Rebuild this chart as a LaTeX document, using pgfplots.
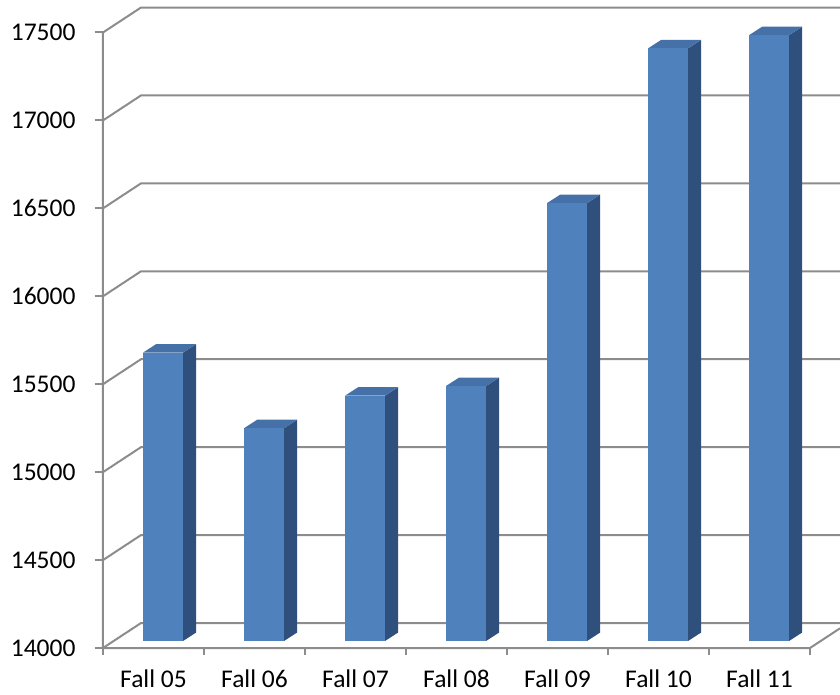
\documentclass[border=0pt]{standalone}
\usepackage{pgfplots}
\pgfplotsset{compat=1.18}
\usepackage{fontspec}
\setmainfont{Carlito}
\definecolor{gridgray}{RGB}{140,140,140}
\definecolor{barfront}{RGB}{79,129,189}
\definecolor{barside}{RGB}{47,80,125}
\definecolor{bartop}{RGB}{70,113,168}
% 3D bar: #1 = category position, #2 = value
\newcommand\tdbar[2]{%
 \edef\tmp{%
  \noexpand\addplot[fill=barside,draw=none] coordinates {(\fpeval{#1+0.293},14040) (\fpeval{#1+0.422},14088) (\fpeval{#1+0.422},\fpeval{#2+88}) (\fpeval{#1+0.293},\fpeval{#2+40})};
  \noexpand\addplot[fill=bartop,draw=none] coordinates {(\fpeval{#1-0.103},\fpeval{#2+40}) (\fpeval{#1+0.293},\fpeval{#2+40}) (\fpeval{#1+0.422},\fpeval{#2+88}) (\fpeval{#1+0.026},\fpeval{#2+88})};
  \noexpand\addplot[fill=barfront,draw=none] coordinates {(\fpeval{#1-0.103},14040) (\fpeval{#1+0.293},14040) (\fpeval{#1+0.293},\fpeval{#2+40}) (\fpeval{#1-0.103},\fpeval{#2+40})};
 }\tmp}
\begin{document}
\begin{tikzpicture}
\path[use as bounding box] (-103pt,-46pt) rectangle (737pt,648pt);
\begin{axis}[
 at={(0,0)}, anchor=south west, scale only axis,
 width=737pt, height=648pt,
 xmin=-0.5, xmax=6.797, ymin=14000, ymax=17684.8,
 clip=false,
 axis x line*=bottom, axis y line*=left,
 axis line style={draw=none},
 tick align=outside,
 ytick={14000,14500,...,17500},
 scaled y ticks=false,
 major tick length=8pt,
 minor tick length=7pt,
 ytick style={draw=gridgray, line width=2pt},
 xtick={0,...,6},
 xticklabels={Fall 05,Fall 06,Fall 07,Fall 08,Fall 09,Fall 10,Fall 11},
 major x tick style={draw=none},
 minor xtick={-0.5,0.5,...,6.5},
 minor x tick style={draw=gridgray, line width=2pt},
 /pgf/number format/1000 sep={},
 /pgf/number format/assume math mode=true,
 ticklabel style={font=\fontsize{25.5}{30}\selectfont, text=black},
 yticklabel style={xshift=-16pt},
 xticklabel style={yshift=-13pt, inner sep=1pt, text depth=0pt},
]
% back wall gridlines in perspective
\addplot[gridgray, line width=2pt] coordinates {(-0.5,14000) (-0.124,14142) (6.797,14142)};
\addplot[gridgray, line width=2pt] coordinates {(-0.5,14500) (-0.124,14642) (6.797,14642)};
\addplot[gridgray, line width=2pt] coordinates {(-0.5,15000) (-0.124,15142) (6.797,15142)};
\addplot[gridgray, line width=2pt] coordinates {(-0.5,15500) (-0.124,15642) (6.797,15642)};
\addplot[gridgray, line width=2pt] coordinates {(-0.5,16000) (-0.124,16142) (6.797,16142)};
\addplot[gridgray, line width=2pt] coordinates {(-0.5,16500) (-0.124,16642) (6.797,16642)};
\addplot[gridgray, line width=2pt] coordinates {(-0.5,17000) (-0.124,17142) (6.797,17142)};
\addplot[gridgray, line width=2pt] coordinates {(-0.5,17500) (-0.124,17642) (6.797,17642)};
% left axis and floor front edge
\addplot[gridgray, line width=2pt] coordinates {(-0.5,17500) (-0.5,14000) (6.5,14000) (6.797,14112)};
% bars
\tdbar{0}{15640}
\tdbar{1}{15210}
\tdbar{2}{15395}
\tdbar{3}{15450}
\tdbar{4}{16490}
\tdbar{5}{17370}
\tdbar{6}{17445}
\end{axis}
\end{tikzpicture}
\end{document}
